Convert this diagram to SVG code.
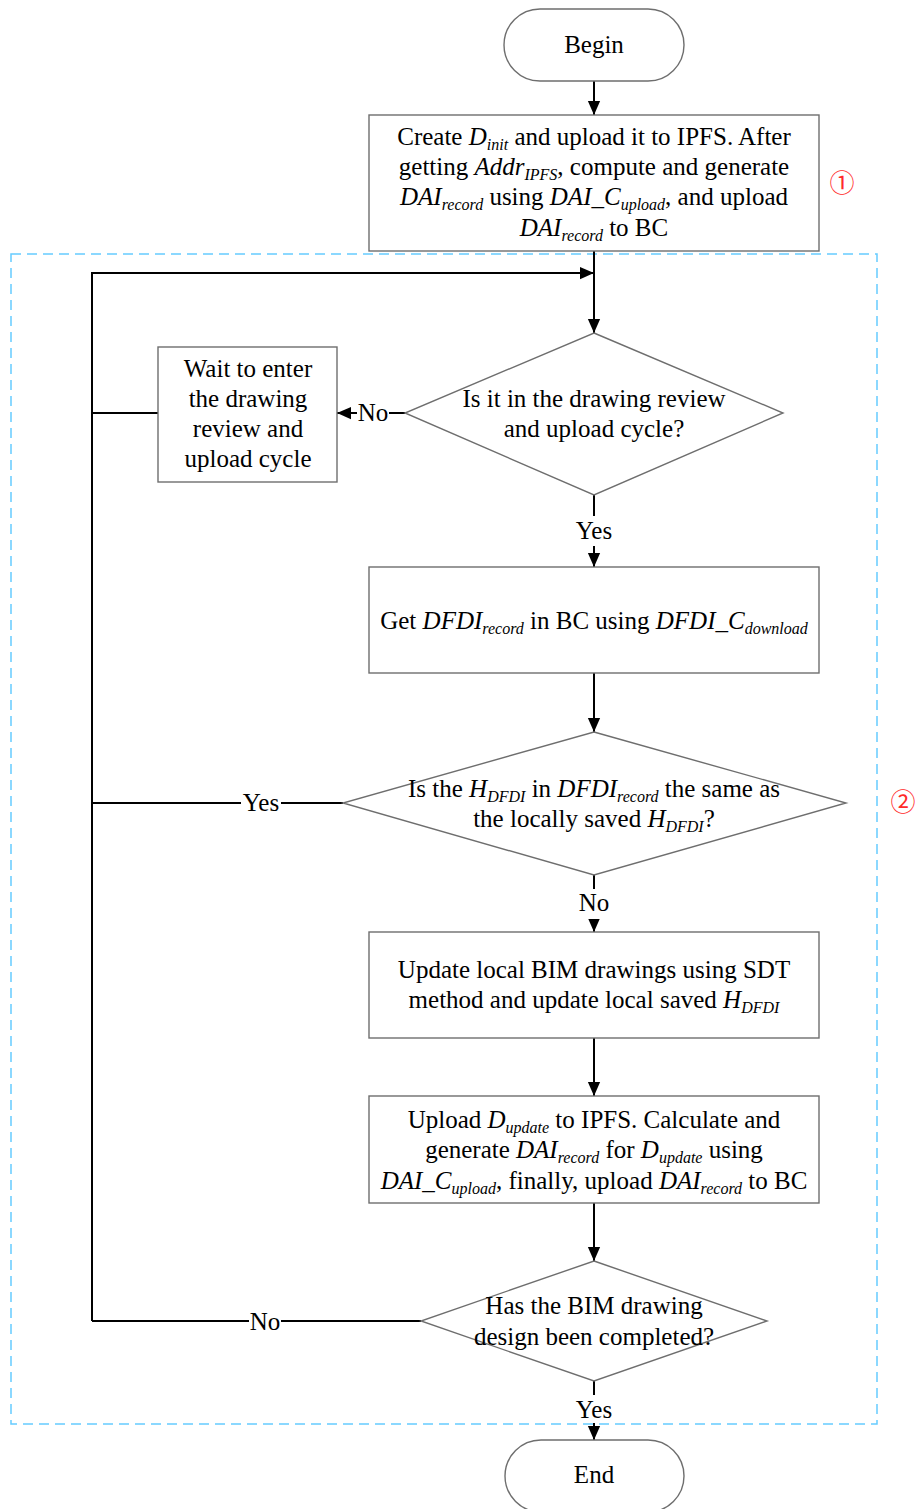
<svg xmlns="http://www.w3.org/2000/svg" width="916" height="1509" viewBox="0 0 916 1509">
<style>
.t{font-family:'Liberation Serif',serif;font-size:25px;fill:#000;text-anchor:middle}
.i{font-style:italic}
.s{font-style:italic;font-size:16px}
.node{fill:#fff;stroke:#6e6e6e;stroke-width:1.4}
.c{fill:none;stroke:#000;stroke-width:2}
.lbl{fill:#fff;stroke:none}
.num{font-family:'Liberation Serif','Noto Sans CJK SC',serif;font-size:25px;fill:#ff2a2a;text-anchor:middle}
</style>
<defs>
<marker id="ah" markerUnits="userSpaceOnUse" markerWidth="14" markerHeight="16" refX="16" refY="7" viewBox="0 0 16 14" orient="auto">
<path d="M0,0 L16,7 L0,14 Z" fill="#000"/>
</marker>
</defs>
<rect x="0" y="0" width="916" height="1509" fill="#fff"/>

<g id="region2">
<rect x="11" y="254" width="866" height="1170" fill="none" stroke="#66ccff" stroke-width="1.5" stroke-dasharray="10 6"/>
</g>

<g id="connectors">
<line class="c" x1="594" y1="81" x2="594" y2="115" marker-end="url(#ah)"/>
<line class="c" x1="594" y1="251" x2="594" y2="333" marker-end="url(#ah)"/>
<polyline class="c" points="92,1321 92,273 594,273" marker-end="url(#ah)"/>
<line class="c" x1="405" y1="413" x2="337" y2="413" marker-end="url(#ah)"/>
<line class="c" x1="158" y1="413" x2="92" y2="413"/>
<line class="c" x1="594" y1="495" x2="594" y2="567" marker-end="url(#ah)"/>
<line class="c" x1="594" y1="673" x2="594" y2="732" marker-end="url(#ah)"/>
<line class="c" x1="343" y1="803" x2="92" y2="803"/>
<line class="c" x1="594" y1="875" x2="594" y2="932" marker-end="url(#ah)"/>
<line class="c" x1="594" y1="1038" x2="594" y2="1096" marker-end="url(#ah)"/>
<line class="c" x1="594" y1="1203" x2="594" y2="1261" marker-end="url(#ah)"/>
<line class="c" x1="421" y1="1321" x2="92" y2="1321"/>
<line class="c" x1="594" y1="1381" x2="594" y2="1440" marker-end="url(#ah)"/>
<rect class="lbl" x="357" y="400" width="32" height="26"/>
<text class="t" x="373" y="421">No</text>
<rect class="lbl" x="575" y="516" width="38" height="30"/>
<text class="t" x="594" y="539">Yes</text>
<rect class="lbl" x="241" y="790" width="40" height="26"/>
<text class="t" x="261" y="811">Yes</text>
<rect class="lbl" x="578" y="889" width="32" height="30"/>
<text class="t" x="594" y="911">No</text>
<rect class="lbl" x="249" y="1309" width="32" height="26"/>
<text class="t" x="265" y="1330">No</text>
<rect class="lbl" x="575" y="1395" width="38" height="28"/>
<text class="t" x="594" y="1418">Yes</text>
</g>

<g id="begin">
<rect class="node" x="504" y="9" width="180" height="72" rx="36"/>
<text class="t" x="594" y="53">Begin</text>
</g>

<g id="step1">
<rect class="node" x="369" y="115" width="450" height="136"/>
<text class="t" x="594" y="145">Create <tspan class="i">D</tspan><tspan class="s" dy="5">init</tspan><tspan dy="-5"> and upload it to IPFS. After</tspan></text>
<text class="t" x="594" y="175">getting <tspan class="i">Addr</tspan><tspan class="s" dy="5">IPFS</tspan><tspan dy="-5">, compute and generate</tspan></text>
<text class="t" x="594" y="205"><tspan class="i">DAI</tspan><tspan class="s" dy="5">record</tspan><tspan dy="-5"> using </tspan><tspan class="i">DAI_C</tspan><tspan class="s" dy="5">upload</tspan><tspan dy="-5">, and upload</tspan></text>
<text class="t" x="594" y="236"><tspan class="i">DAI</tspan><tspan class="s" dy="5">record</tspan><tspan dy="-5"> to BC</tspan></text>
</g>

<g id="label1">
<text class="num" x="842" y="192">①</text>
</g>
<g id="label2">
<text class="num" x="903" y="811">②</text>
</g>

<g id="decision1">
<polygon class="node" points="594,333 783,413 594,495 405,413"/>
<text class="t" x="594" y="407">Is it in the drawing review</text>
<text class="t" x="594" y="437">and upload cycle?</text>
</g>

<g id="wait">
<rect class="node" x="158" y="347" width="179" height="135"/>
<text class="t" x="248" y="377">Wait to enter</text>
<text class="t" x="248" y="407">the drawing</text>
<text class="t" x="248" y="437">review and</text>
<text class="t" x="248" y="467">upload cycle</text>
</g>

<g id="step2">
<rect class="node" x="369" y="567" width="450" height="106"/>
<text class="t" x="594" y="629">Get <tspan class="i">DFDI</tspan><tspan class="s" dy="5">record</tspan><tspan dy="-5"> in BC using </tspan><tspan class="i">DFDI_C</tspan><tspan class="s" dy="5">download</tspan></text>
</g>

<g id="decision2">
<polygon class="node" points="594,732 846,803 594,875 343,803"/>
<text class="t" x="594" y="797">Is the <tspan class="i">H</tspan><tspan class="s" dy="5">DFDI</tspan><tspan dy="-5"> in </tspan><tspan class="i">DFDI</tspan><tspan class="s" dy="5">record</tspan><tspan dy="-5"> the same as</tspan></text>
<text class="t" x="594" y="827">the locally saved <tspan class="i">H</tspan><tspan class="s" dy="5">DFDI</tspan><tspan dy="-5">?</tspan></text>
</g>

<g id="step3">
<rect class="node" x="369" y="932" width="450" height="106"/>
<text class="t" x="594" y="978">Update local BIM drawings using SDT</text>
<text class="t" x="594" y="1008">method and update local saved <tspan class="i">H</tspan><tspan class="s" dy="5">DFDI</tspan></text>
</g>

<g id="step4">
<rect class="node" x="369" y="1096" width="450" height="107"/>
<text class="t" x="594" y="1128">Upload <tspan class="i">D</tspan><tspan class="s" dy="5">update</tspan><tspan dy="-5"> to IPFS. Calculate and</tspan></text>
<text class="t" x="594" y="1158">generate <tspan class="i">DAI</tspan><tspan class="s" dy="5">record</tspan><tspan dy="-5"> for </tspan><tspan class="i">D</tspan><tspan class="s" dy="5">update</tspan><tspan dy="-5"> using</tspan></text>
<text class="t" x="594" y="1189"><tspan class="i">DAI_C</tspan><tspan class="s" dy="5">upload</tspan><tspan dy="-5">, finally, upload </tspan><tspan class="i">DAI</tspan><tspan class="s" dy="5">record</tspan><tspan dy="-5"> to BC</tspan></text>
</g>

<g id="decision3">
<polygon class="node" points="594,1261 767,1321 594,1381 421,1321"/>
<text class="t" x="594" y="1314">Has the BIM drawing</text>
<text class="t" x="594" y="1345">design been completed?</text>
</g>

<g id="end">
<rect class="node" x="505" y="1440" width="179" height="72" rx="36"/>
<text class="t" x="594" y="1483">End</text>
</g>
</svg>
